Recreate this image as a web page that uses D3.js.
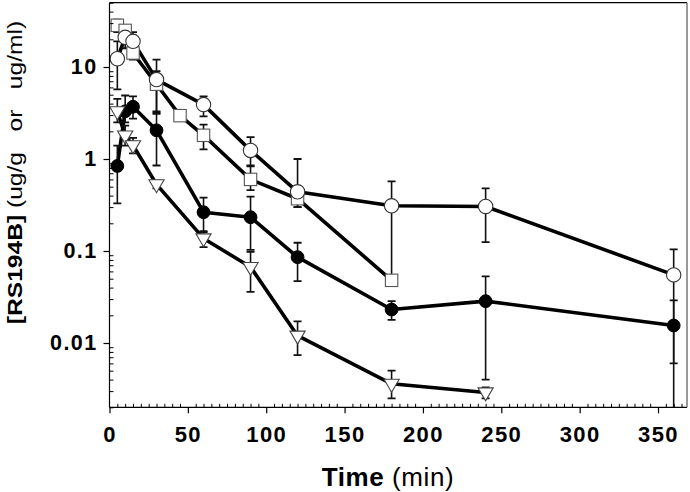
<!DOCTYPE html>
<html>
<head>
<meta charset="utf-8">
<script src="https://cdn.jsdelivr.net/npm/d3@7"></script>
<style>
  html, body { margin: 0; padding: 0; background: #fff; }
  svg { display: block; }
  text { font-family: "Liberation Sans", Arial, Helvetica, sans-serif; fill: #000; }
</style>
</head>
<body>
<svg id="chart" width="690" height="492"></svg>
<script>
// ---- Data ----
const xTicks = [0, 50, 100, 150, 200, 250, 300, 350];
const yTicks = [0.01, 0.1, 1, 10];
const yTickLabels = ["0.01", "0.1", "1", "10"];

// open circles
const timesO = [5, 10, 15, 30, 60, 90, 120, 180, 240, 360];
const valsO  = [12.3, 21, 19, 7.3, 3.9, 1.24, 0.44, 0.31, 0.305, 0.055];
const loO    = [5.7, 16, 15, 3.3, 2.9, 0.85, 0.30, 0.05, 0.125, 0.006];
const hiO    = [19, 27, 24, 12.0, 4.8, 1.73, 1.0, 0.57, 0.48, 0.104];

// open squares
const timesS = [5, 10, 15, 30, 45, 60, 90, 120, 180];
const valsS  = [28.4, 25, 14.2, 6.5, 2.96, 1.81, 0.60, 0.37, 0.048];
const loS    = [24, 22, 12, 3.1, 2.8, 1.27, 0.46, 0.30, 0.045];
const hiS    = [32.8, 27.9, 16.5, 9, 3.1, 2.37, 0.83, 0.44, 0.052];

// filled circles
const timesF = [5, 10, 15, 30, 60, 90, 120, 180, 240, 360];
const valsF  = [0.84, 3.3, 3.7, 2.05, 0.264, 0.233, 0.0857, 0.0231, 0.0285, 0.0155];
const loF    = [0.33, 2.5, 2.75, 0.85, 0.164, 0.103, 0.047, 0.0178, 0.004, 0.001];
const hiF    = [1.4, 4.9, 4.8, 3.2, 0.38, 0.39, 0.123, 0.0285, 0.053, 0.029];

// open down-triangles
const timesT = [5, 10, 15, 30, 60, 90, 120, 180, 240];
const valsT  = [3.3, 1.8, 1.41, 0.53, 0.137, 0.067, 0.012, 0.0036, 0.0029];
const loT    = [2.5, 1.4, 1.15, 0.48, 0.11, 0.036, 0.0074, 0.0025, 0.0025];
const hiT    = [4.5, 2.3, 1.7, 0.58, 0.16, 0.098, 0.0172, 0.0050, 0.0033];

// ---- Layout ----
const L = 109.5, R = 687, T = 2.7, B = 407.3;
const svg = d3.select("#chart");

const x = d3.scaleLinear().domain([0, 368.5]).range([L, R]);
const y = d3.scaleLog().domain([0.002, 50]).range([B, T]);

function mk(times, vals, lo, hi) {
  return times.map((t, i) => ({ t, v: vals[i], lo: lo[i], hi: hi[i] }));
}
const series = [
  { key: "S", data: mk(timesS, valsS, loS, hiS), shape: "square" },
  { key: "F", data: mk(timesF, valsF, loF, hiF), shape: "filled" },
  { key: "T", data: mk(timesT, valsT, loT, hiT), shape: "tri" },
  { key: "O", data: mk(timesO, valsO, loO, hiO), shape: "open" }
];

svg.append("clipPath").attr("id", "clip").append("rect")
  .attr("x", L).attr("y", T).attr("width", R - L).attr("height", B - T);

const plot = svg.append("g").attr("clip-path", "url(#clip)");

// connecting lines
const line = d3.line().x(d => x(d.t)).y(d => y(d.v));
series.forEach(s => {
  plot.append("path").datum(s.data)
    .attr("d", line).attr("fill", "none")
    .attr("stroke", "#000").attr("stroke-width", 3.6)
    .attr("stroke-linejoin", "round");
});

// error bars
const clampY = v => y(Math.max(v, 0.0015));
series.forEach(s => {
  const g = plot.append("g");
  s.data.forEach(d => {
    const cx = x(d.t);
    g.append("line").attr("x1", cx).attr("x2", cx)
      .attr("y1", clampY(d.lo)).attr("y2", y(d.hi))
      .attr("stroke", "#111").attr("stroke-width", 1.6);
    [d.lo, d.hi].forEach(v => {
      if (v > 0.002) {
        g.append("line").attr("x1", cx - 4).attr("x2", cx + 4)
          .attr("y1", y(v)).attr("y2", y(v))
          .attr("stroke", "#111").attr("stroke-width", 1.8);
      }
    });
  });
});

// markers
series.forEach(s => {
  const g = plot.append("g");
  s.data.forEach(d => {
    const cx = x(d.t), cy = y(d.v);
    if (s.shape === "open") {
      g.append("circle").attr("cx", cx).attr("cy", cy).attr("r", 7.2)
        .attr("fill", "#fff").attr("stroke", "#333").attr("stroke-width", 1.1);
    } else if (s.shape === "filled") {
      g.append("circle").attr("cx", cx).attr("cy", cy).attr("r", 6.4)
        .attr("fill", "#000").attr("stroke", "#000").attr("stroke-width", 1);
    } else if (s.shape === "square") {
      g.append("rect").attr("x", cx - 6.2).attr("y", cy - 6.2)
        .attr("width", 12.4).attr("height", 12.4)
        .attr("fill", "#fff").attr("stroke", "#555").attr("stroke-width", 1.1);
    } else {
      const h = 7.6;
      g.append("path")
        .attr("d", `M${cx - h},${cy - h * 0.6} L${cx + h},${cy - h * 0.6} L${cx},${cy + h * 1.1} Z`)
        .attr("fill", "#fff").attr("stroke", "#444").attr("stroke-width", 1.1);
    }
  });
});

// ---- Axes ----
// minor y ticks (inside)
const yMinor = [];
for (let e = -3; e <= 1; e++) {
  for (let m = 2; m <= 9; m++) {
    const v = m * Math.pow(10, e);
    if (v >= 0.002 && v <= 50) yMinor.push(v);
  }
}
svg.append("g").attr("transform", `translate(${L},0)`)
  .call(d3.axisLeft(y).tickValues(yMinor).tickSize(-4).tickFormat(""))
  .call(g => g.select(".domain").remove())
  .call(g => g.selectAll("line").attr("stroke", "#000").attr("stroke-width", 1));

const yAxis = svg.append("g").attr("transform", `translate(${L},0)`)
  .call(d3.axisLeft(y).tickValues(yTicks).tickSize(6).tickPadding(6)
    .tickFormat((d, i) => yTickLabels[i]));
yAxis.select(".domain").attr("d", `M0,${T}V${B}`).attr("stroke", "#000").attr("stroke-width", 1.2);
yAxis.selectAll("line").attr("stroke", "#000").attr("stroke-width", 1.2);
yAxis.selectAll("text")
  .style("font-size", "21.5px").style("font-weight", "bold")
  .style("letter-spacing", "1.4px")
  .attr("font-family", null).attr("fill", "#000");

// minor x ticks (inside)
const xMinor = d3.range(5, 369, 5).filter(v => v % 50 !== 0);
svg.append("g").attr("transform", `translate(0,${B})`)
  .call(d3.axisBottom(x).tickValues(xMinor).tickSize(-3.5).tickFormat(""))
  .call(g => g.select(".domain").remove())
  .call(g => g.selectAll("line").attr("stroke", "#000").attr("stroke-width", 1));

const xAxis = svg.append("g").attr("transform", `translate(0,${B})`)
  .call(d3.axisBottom(x).tickValues(xTicks).tickSize(6).tickPadding(13).tickFormat(d3.format("d")));
xAxis.select(".domain").attr("d", `M${L},0H${R}`).attr("stroke", "#000").attr("stroke-width", 1.2);
xAxis.selectAll("line").attr("stroke", "#000").attr("stroke-width", 1.2);
xAxis.selectAll("text")
  .style("font-size", "22px").style("font-weight", "bold")
  .style("letter-spacing", "1.4px")
  .attr("font-family", null).attr("fill", "#000");

// frame top/right
svg.append("line").attr("x1", L).attr("x2", R).attr("y1", T).attr("y2", T)
  .attr("stroke", "#000").attr("stroke-width", 1.2);
svg.append("line").attr("x1", R).attr("x2", R).attr("y1", T).attr("y2", B)
  .attr("stroke", "#555").attr("stroke-width", 1.2);

// titles
const xt = svg.append("text").attr("x", 388).attr("y", 486)
  .attr("text-anchor", "middle").style("font-size", "26px")
  .style("letter-spacing", "0.6px");
xt.append("tspan").style("font-weight", "bold").text("Time");
xt.append("tspan").style("white-space", "pre").text(" (min)");

const yt = svg.append("text")
  .attr("transform", "translate(22,172.5) rotate(-90) scale(1.2,1)")
  .attr("text-anchor", "middle").style("font-size", "20.5px")
  .style("white-space", "pre");
yt.append("tspan").style("font-weight", "bold").text("[RS194B]");
yt.append("tspan").text(" (ug/g   or   ug/ml)");
</script>
</body>
</html>
